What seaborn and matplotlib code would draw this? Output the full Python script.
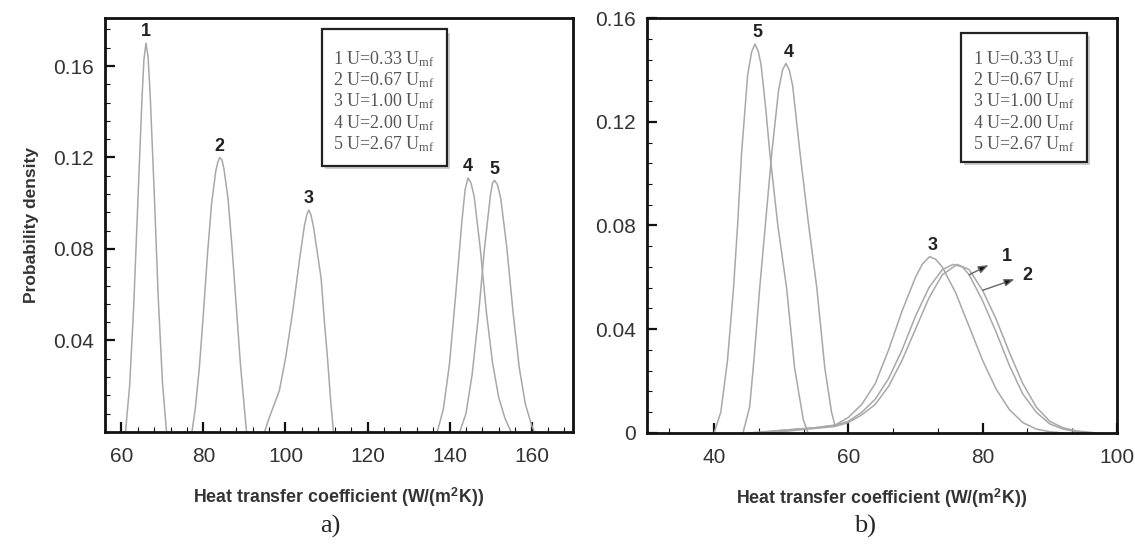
import numpy as np
import pandas as pd
import matplotlib
matplotlib.use("Agg")
import matplotlib.pyplot as plt
import seaborn as sns
from matplotlib.patches import Rectangle
from matplotlib.ticker import MultipleLocator, AutoMinorLocator

# ---- panel a) curves
a1_x = [61, 62, 63, 64, 65, 65.5, 66, 66.5, 67, 68, 69, 70, 71]
a1_y = [0, 0.02, 0.055, 0.10, 0.145, 0.163, 0.170, 0.164, 0.148, 0.105, 0.058, 0.022, 0]
a2_x = [77.2, 78, 79, 80, 81, 82, 83, 83.5, 84, 84.5, 85, 86, 87, 88, 89, 90, 90.5]
a2_y = [0, 0.01, 0.028, 0.052, 0.078, 0.100, 0.114, 0.118, 0.120, 0.119, 0.115, 0.102, 0.080, 0.055,
        0.030, 0.010, 0]
a3_x = [94.9, 96, 98.5, 100, 101.8, 103.4, 104.6, 105.2, 105.7, 106.2, 106.8, 107.8, 108.7, 109.5,
        110.3, 111, 111.7]
a3_y = [0, 0.006, 0.018, 0.032, 0.053, 0.075, 0.090, 0.095, 0.097, 0.095, 0.090, 0.078, 0.067, 0.048,
        0.031, 0.014, 0]
a4_x = [137, 138.5, 140, 141.5, 143, 143.8, 144.5, 145.2, 146, 147.5, 149, 150.5, 152, 153.5, 155]
a4_y = [0, 0.01, 0.03, 0.06, 0.092, 0.106, 0.111, 0.109, 0.103, 0.080, 0.052, 0.030, 0.015, 0.006, 0]
a5_x = [142.5, 144, 145.5, 147, 148.5, 150, 150.5, 151, 151.7, 152.5, 154, 155.5, 157, 158.5, 160, 160.7]
a5_y = [0, 0.008, 0.025, 0.050, 0.080, 0.104, 0.109, 0.110, 0.108, 0.102, 0.080, 0.052, 0.028, 0.012,
        0.003, 0]

# ---- panel b) curves
b1_x = [46, 50, 55, 58, 60, 62, 64, 66, 68, 70, 72, 74, 75.6, 77, 78, 80, 82, 84, 86, 88, 90, 92, 94, 96]
b1_y = [0, 0.001, 0.002, 0.003, 0.0045, 0.008, 0.013, 0.021, 0.032, 0.045, 0.056, 0.063, 0.065, 0.064,
        0.061, 0.051, 0.039, 0.026, 0.015, 0.008, 0.0035, 0.0015, 0.0005, 0]
b2_x = [48, 52, 56, 58, 60, 62, 64, 66, 68, 70, 72, 74, 76.2, 78, 80, 82, 84, 86, 88, 90, 92, 94, 97]
b2_y = [0, 0.001, 0.002, 0.0025, 0.004, 0.007, 0.011, 0.018, 0.028, 0.040, 0.052, 0.061, 0.065, 0.063,
        0.055, 0.044, 0.031, 0.019, 0.010, 0.0045, 0.002, 0.0008, 0]
b3_x = [45, 50, 55, 58, 60, 62, 64, 66, 68, 70, 71, 72.1, 73, 74, 76, 78, 80, 82, 84, 86, 88, 90, 92]
b3_y = [0, 0.001, 0.002, 0.003, 0.006, 0.011, 0.019, 0.032, 0.047, 0.060, 0.065, 0.068, 0.067, 0.064,
        0.054, 0.041, 0.028, 0.017, 0.009, 0.004, 0.0015, 0.0005, 0]
b4_x = [44.3, 45.3, 46, 46.8, 47.7, 48.6, 49.6, 50.2, 50.7, 51.2, 51.7, 52.8, 54, 55.3, 56.5, 57.5, 58]
b4_y = [0, 0.01, 0.03, 0.056, 0.082, 0.108, 0.132, 0.140, 0.1425, 0.140, 0.134, 0.108, 0.082, 0.056,
        0.025, 0.008, 0.003]
b5_x = [40, 41, 42, 42.9, 43.5, 44.1, 45, 45.6, 46.1, 46.6, 47, 47.7, 48.3, 49.5, 50.8, 52, 53.3, 54]
b5_y = [0, 0.008, 0.028, 0.056, 0.080, 0.108, 0.138, 0.147, 0.150, 0.147, 0.142, 0.125, 0.108, 0.080,
        0.056, 0.025, 0.005, 0]

curve_names = ['1', '2', '3', '4', '5']
legend_lines = ['1 U=0.33 U', '2 U=0.67 U', '3 U=1.00 U', '4 U=2.00 U', '5 U=2.67 U']


def long_df(xs, ys):
    parts = []
    for name, x, y in zip(curve_names, xs, ys):
        parts.append(pd.DataFrame({'x': x, 'y': y, 'curve': name}))
    return pd.concat(parts, ignore_index=True)


df_a = long_df([a1_x, a2_x, a3_x, a4_x, a5_x], [a1_y, a2_y, a3_y, a4_y, a5_y])
df_b = long_df([b1_x, b2_x, b3_x, b4_x, b5_x], [b1_y, b2_y, b3_y, b4_y, b5_y])

sns.set_style("ticks")
plt.rcParams['font.family'] = ['Liberation Sans', 'DejaVu Sans']
plt.rcParams['mathtext.fontset'] = 'stix'

line_col = '#a8a8a8'
text_col = '#333333'
pal = {c: line_col for c in curve_names}

fig = plt.figure(figsize=(11.35, 5.46), dpi=100)
ax_a = fig.add_axes([0.0925, 0.209, 0.412, 0.758])
ax_b = fig.add_axes([0.570, 0.207, 0.414, 0.760])


def style_axes(ax):
    for sp in ax.spines.values():
        sp.set_linewidth(2.0)
        sp.set_color('#111111')
    ax.tick_params(which='both', direction='in', top=False, right=False,
                   labelsize=15, labelcolor=text_col, color='#111111')
    ax.tick_params(which='major', length=7, width=1.6)
    ax.tick_params(axis='x', which='major', pad=11)
    ax.tick_params(axis='y', which='major', pad=8)
    ax.tick_params(which='minor', length=3.5, width=0.8)
    ax.set_xlabel('Heat transfer coefficient (W/(m$^{\\mathregular{2}}$K))',
                  fontsize=12.8, fontweight='bold', color=text_col, labelpad=14)


def legend_box(ax, x0, y0, x1, y1):
    shadow = Rectangle((x0 + 0.006, y0 - 0.008), x1 - x0, y1 - y0, transform=ax.transAxes,
                       facecolor='#cfcfcf', edgecolor='none', zorder=4)
    box = Rectangle((x0, y0), x1 - x0, y1 - y0, transform=ax.transAxes,
                    facecolor='white', edgecolor='#222222', lw=1.6, zorder=5)
    ax.add_patch(shadow)
    ax.add_patch(box)
    txt = '\n'.join(s + '$_{\\mathregular{mf}}$' for s in legend_lines)
    ax.text((x0 + x1) / 2, (y0 + y1) / 2 - 0.01, txt, transform=ax.transAxes, ha='center', va='center',
            family=['Liberation Serif', 'DejaVu Serif'], fontsize=13, color='#555555',
            linespacing=1.12, zorder=6)


# ---- panel a
sns.lineplot(data=df_a, x='x', y='y', hue='curve', palette=pal, estimator=None, sort=False,
             legend=False, lw=1.1, ax=ax_a)
ax_a.set_xlim(56, 170)
ax_a.set_ylim(0, 0.181)
ax_a.xaxis.set_major_locator(MultipleLocator(20))
ax_a.xaxis.set_minor_locator(AutoMinorLocator(5))
ax_a.yaxis.set_minor_locator(AutoMinorLocator(5))
ax_a.set_yticks([0.04, 0.08, 0.12, 0.16])
ax_a.set_yticklabels(['0.04', '0.08', '0.12', '0.16'])
style_axes(ax_a)
ax_a.set_ylabel('Probability density', fontsize=12.5, fontweight='bold', color=text_col, labelpad=10)
for name, g in df_a.groupby('curve'):
    i = g['y'].idxmax()
    ax_a.annotate(name, (g.loc[i, 'x'], g.loc[i, 'y']), xytext=(0, 2), textcoords='offset points',
                  ha='center', va='bottom', fontsize=13, fontweight='bold', color='#222222')
legend_box(ax_a, 0.464, 0.643, 0.731, 0.973)
fig.text(0.291, 0.035, 'a)', family=['Liberation Serif', 'DejaVu Serif'], fontsize=19,
         ha='center', va='center')

# ---- panel b
sns.lineplot(data=df_b, x='x', y='y', hue='curve', palette=pal, estimator=None, sort=False,
             legend=False, lw=1.1, ax=ax_b)
ax_b.set_xlim(30, 100)
ax_b.set_ylim(0, 0.16)
ax_b.xaxis.set_minor_locator(AutoMinorLocator(3))
ax_b.yaxis.set_minor_locator(AutoMinorLocator(5))
ax_b.set_xticks([40, 60, 80, 100])
ax_b.set_yticks([0, 0.04, 0.08, 0.12, 0.16])
ax_b.set_yticklabels(['0', '0.04', '0.08', '0.12', '0.16'])
style_axes(ax_b)
ax_b.set_ylabel('')
for name, g in df_b.groupby('curve'):
    if name in ('1', '2'):
        continue
    i = g['y'].idxmax()
    ax_b.annotate(name, (g.loc[i, 'x'], g.loc[i, 'y']), xytext=(2, 2), textcoords='offset points',
                  ha='center', va='bottom', fontsize=13, fontweight='bold', color='#222222')

# arrows pointing from curves 1 and 2 to their labels
for name, xs, ys, x_at, arr_off, txt_off in [('1', b1_x, b1_y, 78.0, (14, 7), (27, 13)),
                                             ('2', b2_x, b2_y, 80.0, (23, 8), (32, 11))]:
    p = (x_at, np.interp(x_at, xs, ys))
    ax_b.annotate(name, p, xytext=txt_off, textcoords='offset points', ha='center', va='center',
                  fontsize=13, fontweight='bold', color='#222222')
    end = ax_b.transData.inverted().transform(
        ax_b.transData.transform(p) + np.array(arr_off) * fig.dpi / 72.0)
    ax_b.annotate('', xy=end, xytext=p,
                  arrowprops=dict(arrowstyle='-|>,head_length=0.6,head_width=0.22',
                                  lw=1.0, shrinkA=0, shrinkB=0, fc='#111111', ec='#666666'))
legend_box(ax_b, 0.668, 0.653, 0.936, 0.964)
fig.text(0.762, 0.035, 'b)', family=['Liberation Serif', 'DejaVu Serif'], fontsize=19,
         ha='center', va='center')

fig.savefig('out.png', dpi=100, facecolor='white')
